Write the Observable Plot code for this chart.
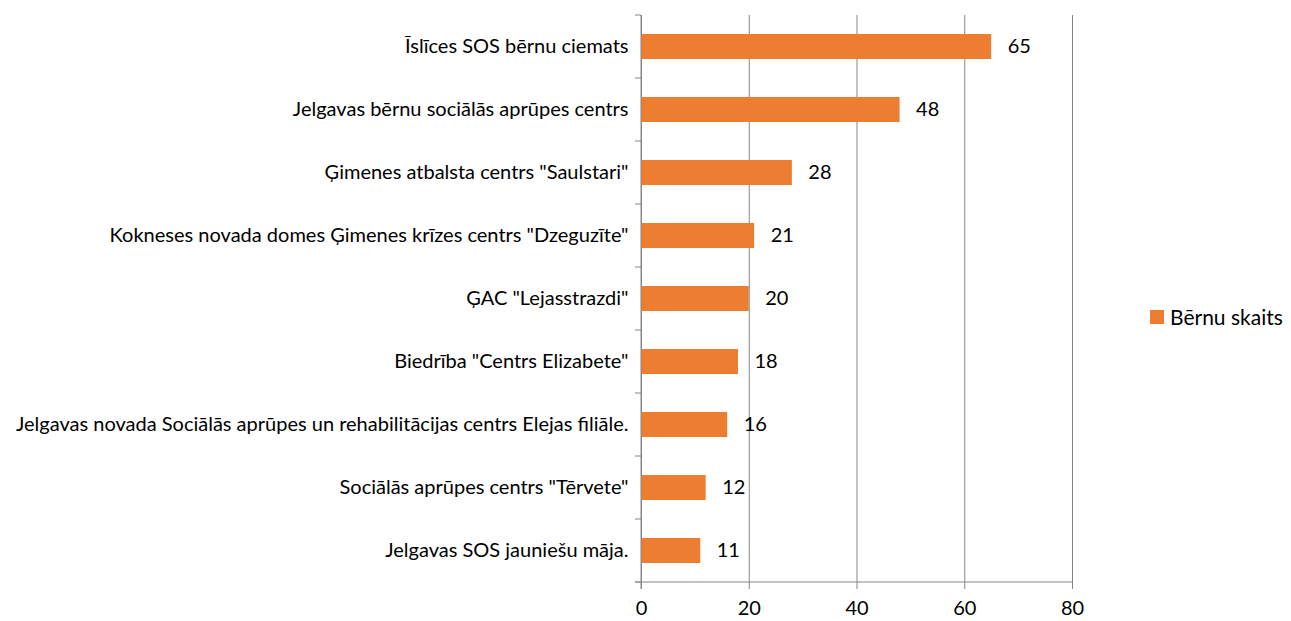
<!DOCTYPE html>
<html>
<head>
<meta charset="utf-8">
<script src="https://cdn.jsdelivr.net/npm/d3@7"></script>
<script src="https://cdn.jsdelivr.net/npm/@observablehq/plot@0.6"></script>
<style>
  html, body { margin: 0; padding: 0; background: #fff; }
  #wrap { position: relative; width: 1291px; height: 621px; }
  #legend { position: absolute; left: 1150px; top: 304px; font-family: Lato, sans-serif; font-size: 21px; color: #000; display: flex; align-items: center; line-height: 26px; }
  #legend span.sw { display: inline-block; width: 14px; height: 14px; background: #ED7D31; margin-right: 6px; }
</style>
</head>
<body>
<div id="wrap">
  <div id="chart"></div>
  <div id="legend"><span class="sw"></span><span>Bērnu skaits</span></div>
</div>
<script>
const categories = [
  "Īslīces SOS bērnu ciemats",
  "Jelgavas bērnu sociālās aprūpes centrs",
  "Ģimenes atbalsta centrs \"Saulstari\"",
  "Kokneses novada domes Ģimenes krīzes centrs \"Dzeguzīte\"",
  "ĢAC \"Lejasstrazdi\"",
  "Biedrība \"Centrs Elizabete\"",
  "Jelgavas novada Sociālās aprūpes un rehabilitācijas centrs Elejas filiāle.",
  "Sociālās aprūpes centrs \"Tērvete\"",
  "Jelgavas SOS jauniešu māja."
];
const values = [65, 48, 28, 21, 20, 18, 16, 12, 11];
const xTicks = [0, 20, 40, 60, 80];
const seriesName = "Bērnu skaits";

const data = categories.map((c, i) => ({category: c, value: values[i]}));
const gridColor = "#868686";

const chart = Plot.plot({
  width: 1291,
  height: 621,
  marginLeft: 641,
  marginRight: 219,
  marginTop: 15,
  marginBottom: 39,
  style: {fontFamily: "Lato, sans-serif", background: "#fff"},
  x: {domain: [0, 80], ticks: xTicks, label: null},
  y: {domain: categories, paddingInner: 0.6, paddingOuter: 0.3, label: null},
  marks: [
    Plot.ruleX(xTicks, {stroke: gridColor, strokeWidth: 1}),
    Plot.barX(data, {x: "value", y: "category", fill: "#ED7D31"}),
    Plot.text(data, {x: "value", y: "category", text: d => String(d.value), textAnchor: "start", dx: 16, fontSize: 20, fill: "#000"}),
    Plot.axisX({ticks: xTicks, tickSize: 7, tickPadding: 11, fontSize: 20, stroke: gridColor, color: "#000", label: null}),
    Plot.axisY({tickSize: 0, tickPadding: 13, fontSize: 20, color: "#000", label: null})
  ]
});

// axis lines and category boundary ticks
const svg = d3.select(chart);
const ys = chart.scale("y");
const xs = chart.scale("x");
const x0 = xs.apply(0), x80 = xs.apply(80);
const step = ys.step, bw = ys.bandwidth;
const bounds = categories.map(c => ys.apply(c) - (step - bw) / 2);
bounds.push(bounds[bounds.length - 1] + step);
const g = svg.append("g").attr("stroke", gridColor).attr("stroke-width", 1);
bounds.forEach(b => g.append("line").attr("x1", x0 - 6).attr("x2", x0).attr("y1", b).attr("y2", b));
const yb = bounds[bounds.length - 1];
g.append("line").attr("x1", x0 - 6).attr("x2", x80).attr("y1", yb).attr("y2", yb);
g.append("line").attr("x1", x0).attr("x2", x0).attr("y1", bounds[0]).attr("y2", yb + 7);

document.getElementById("chart").appendChild(chart);
</script>
</body>
</html>
